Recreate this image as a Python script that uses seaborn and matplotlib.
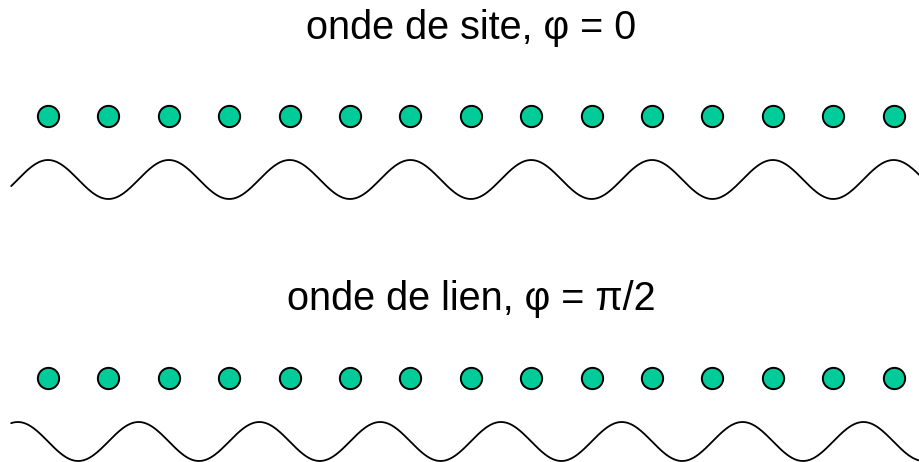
import numpy as np
import pandas as pd
import matplotlib
matplotlib.use("Agg")
import matplotlib.pyplot as plt
import seaborn as sns

# data: lattice sites and the phase of each wave
sites = list(range(15))
titles = ["onde de site, φ = 0", "onde de lien, φ = π/2"]
phases = [0.0, np.pi / 2]

# layout (pixel rows, figure is 919x462)
title_y = [39, 310]
dots_y = [116, 378]
wave_y = [179.5, 441.5]
amp = 19.5
x_left = -48 / 60.4
x_right = (919 - 48) / 60.4

sns.set_theme(style="white")
plt.rcParams["font.family"] = ["Liberation Sans", "DejaVu Sans"]

fig = plt.figure(figsize=(9.19, 4.62), dpi=100)
ax = fig.add_axes([0, 0, 1, 1])

for t, ph, ty, dy, wy in zip(titles, phases, title_y, dots_y, wave_y):
    df_dots = pd.DataFrame({"x": sites, "y": [dy] * len(sites)})
    sns.scatterplot(data=df_dots, x="x", y="y", ax=ax, s=235, color="#00CC99",
                    edgecolor="black", linewidth=1.4, zorder=3)
    xs = np.linspace(-0.61, x_right + 0.2, 800)
    df_wave = pd.DataFrame({"x": xs, "y": wy - amp * np.cos(np.pi * xs + ph)})
    sns.lineplot(data=df_wave, x="x", y="y", ax=ax, color="black", linewidth=1.3,
                 sort=False, estimator=None)
    ax.text((471 - 48) / 60.4, ty, t, ha="center", va="baseline", fontsize=28.5,
            color="black")

ax.set_xlim(x_left, x_right)
ax.set_ylim(462, 0)
ax.axis("off")

fig.savefig("out.png", dpi=100)
